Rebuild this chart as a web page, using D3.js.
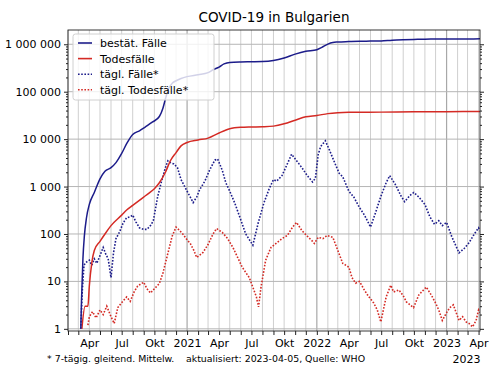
<!DOCTYPE html>
<html>
<head>
<meta charset="utf-8">
<script src="https://cdn.jsdelivr.net/npm/d3@7"></script>
<style>
  body { margin: 0; background: #fff; }
  text { font-family: "DejaVu Sans", sans-serif; fill: #000; }
</style>
</head>
<body>
<div id="chart"></div>
<script>
// kumulierte Fälle
const casesCumDates = ["2020-03-08","2020-03-10","2020-03-14","2020-03-18","2020-03-24","2020-04-01","2020-04-15","2020-05-01","2020-05-15","2020-06-01","2020-06-15","2020-07-01","2020-07-15","2020-08-01","2020-08-20","2020-09-05","2020-09-26","2020-10-15","2020-10-25","2020-11-01","2020-11-10","2020-11-20","2020-12-01","2020-12-15","2021-01-01","2021-02-01","2021-03-01","2021-03-15","2021-04-01","2021-04-15","2021-05-01","2021-06-01","2021-07-01","2021-08-01","2021-09-01","2021-10-01","2021-11-01","2021-12-01","2022-01-01","2022-01-15","2022-02-01","2022-02-15","2022-03-01","2022-04-01","2022-05-01","2022-06-01","2022-07-01","2022-08-01","2022-09-01","2022-10-01","2022-11-01","2022-12-01","2023-01-01","2023-02-01","2023-03-01","2023-04-05"];
const casesCum = [1,4,30,90,220,420,750,1450,2100,2500,3200,5000,8000,12500,15000,18000,23000,30000,45000,70000,115000,150000,170000,190000,208000,228000,252000,290000,330000,385000,415000,425000,428000,432000,455000,515000,620000,710000,770000,860000,1010000,1090000,1115000,1140000,1160000,1166000,1175000,1222000,1250000,1268000,1280000,1287000,1291000,1294000,1297000,1300000];

// kumulierte Todesfälle
const deathsCumDates = ["2020-03-11","2020-03-20","2020-03-28","2020-04-01","2020-04-08","2020-04-15","2020-05-01","2020-05-15","2020-06-01","2020-07-01","2020-07-15","2020-08-01","2020-09-01","2020-09-15","2020-10-01","2020-10-15","2020-11-01","2020-11-15","2020-12-01","2020-12-15","2021-01-01","2021-02-01","2021-03-01","2021-04-01","2021-05-01","2021-06-01","2021-07-01","2021-08-01","2021-09-01","2021-10-01","2021-11-01","2021-12-01","2022-01-01","2022-02-01","2022-03-01","2022-04-01","2022-07-01","2022-10-01","2023-01-01","2023-04-05"];
const deathsCum = [1,3,3,8,25,45,70,100,150,250,320,400,600,720,900,1200,2000,3500,5200,7200,8500,9600,10500,13500,16500,17700,18000,18200,18800,21000,25000,29500,31500,34500,36000,36700,37100,37700,38000,38300];

// tägliche Fälle, 7-Tage-Mittel
const casesDailyDates = ["2020-03-08","2020-03-12","2020-03-17","2020-03-22","2020-04-01","2020-04-08","2020-04-15","2020-04-22","2020-05-01","2020-05-10","2020-05-17","2020-05-24","2020-06-01","2020-06-08","2020-06-15","2020-06-25","2020-07-05","2020-07-15","2020-07-25","2020-08-01","2020-08-10","2020-08-20","2020-09-01","2020-09-10","2020-09-20","2020-09-28","2020-10-10","2020-10-20","2020-11-01","2020-11-08","2020-11-15","2020-11-25","2020-12-05","2020-12-15","2021-01-01","2021-01-10","2021-01-18","2021-01-28","2021-02-05","2021-02-20","2021-03-05","2021-03-20","2021-03-28","2021-04-10","2021-04-20","2021-05-01","2021-05-15","2021-05-30","2021-06-15","2021-07-05","2021-07-20","2021-08-05","2021-08-20","2021-09-01","2021-09-10","2021-09-25","2021-10-10","2021-10-22","2021-11-05","2021-11-20","2021-12-05","2021-12-20","2021-12-28","2022-01-05","2022-01-12","2022-01-25","2022-02-05","2022-02-20","2022-03-05","2022-03-15","2022-04-01","2022-04-15","2022-05-01","2022-05-15","2022-06-01","2022-06-15","2022-07-01","2022-07-15","2022-07-25","2022-08-10","2022-08-25","2022-09-05","2022-09-20","2022-10-01","2022-10-15","2022-11-01","2022-11-15","2022-11-28","2022-12-10","2022-12-20","2023-01-01","2023-01-15","2023-02-05","2023-02-20","2023-03-05","2023-03-20","2023-04-01","2023-04-05"];
const casesDaily = [1,6,22,25,28,22,30,24,35,52,38,30,12,40,80,110,170,220,230,250,180,135,125,125,150,190,600,1200,2500,3500,3200,3000,2500,1400,800,600,460,600,850,1300,2200,3600,3800,2200,1200,800,450,220,100,58,170,450,900,1400,1300,1700,3000,4800,3500,2500,1700,1250,1500,4800,7000,9200,6000,3200,1900,1600,800,600,360,250,140,280,650,1200,1700,1100,650,480,650,750,600,420,230,160,190,150,175,90,40,50,65,100,135,115];

// tägliche Todesfälle, 7-Tage-Mittel
const deathsDailyDates = ["2020-03-28","2020-04-01","2020-04-10","2020-04-20","2020-05-01","2020-05-10","2020-05-20","2020-06-01","2020-06-10","2020-06-20","2020-06-30","2020-07-15","2020-07-25","2020-08-05","2020-08-15","2020-09-01","2020-09-10","2020-09-20","2020-10-01","2020-10-15","2020-10-25","2020-11-10","2020-11-20","2020-12-01","2020-12-10","2020-12-20","2021-01-01","2021-01-10","2021-01-20","2021-01-28","2021-02-15","2021-03-01","2021-03-15","2021-03-25","2021-04-10","2021-04-25","2021-05-10","2021-05-25","2021-06-05","2021-06-25","2021-07-15","2021-07-21","2021-07-28","2021-08-10","2021-08-25","2021-09-10","2021-09-25","2021-10-10","2021-10-25","2021-11-05","2021-11-20","2021-12-05","2021-12-20","2021-12-25","2022-01-05","2022-01-18","2022-01-30","2022-02-15","2022-03-01","2022-03-15","2022-04-01","2022-04-10","2022-04-20","2022-05-01","2022-05-15","2022-05-25","2022-06-10","2022-06-20","2022-06-30","2022-07-15","2022-07-28","2022-08-05","2022-08-20","2022-09-01","2022-09-10","2022-09-30","2022-10-15","2022-11-05","2022-11-20","2022-12-01","2022-12-10","2022-12-20","2023-01-01","2023-01-10","2023-01-20","2023-02-05","2023-02-15","2023-02-25","2023-03-05","2023-03-15","2023-03-25","2023-04-01","2023-04-05"];
const deathsDaily = [1.2,1.8,2.3,1.7,2.5,2.0,3.0,1.8,1.3,2.8,3.5,4.7,3.8,6,8,9.6,7,5.7,7,9,15,45,90,140,120,100,75,63,45,32,41,60,100,130,108,80,52,30,20,12,4.7,2.9,7.6,28,52,65,80,93,140,175,118,90,70,63,85,80,93,85,45,24,20,12,9.2,10,6.5,5,3.5,2.5,1.4,4.7,8.3,6,6.6,5,3.7,2.8,5.2,7.6,5,3.5,2.5,1.5,2.2,2.8,3.2,1.5,1.8,1.4,1.3,1.1,1.5,2.5,2.2];

const yTickValues = [1,10,100,1000,10000,100000,1000000];
const monthNames = ["Jan","Feb","Mär","Apr","Mai","Jun","Jul","Aug","Sep","Okt","Nov","Dez"];
const legendLabels = ["bestät. Fälle","Todesfälle","tägl. Fälle*","tägl. Todesfälle*"];

const width = 500, height = 375;
const margin = {top: 30, right: 20, bottom: 44, left: 68};
const blue = "#1c1c8a", red = "#d42a24";

const parse = d3.timeParse("%Y-%m-%d");
const zip = (ds, vs) => ds.map((d, i) => ({date: parse(d), value: vs[i]}));

const svg = d3.select("#chart").append("svg")
    .attr("width", width)
    .attr("height", height);

const x = d3.scaleTime()
    .domain([parse("2020-02-01"), parse("2023-04-05")])
    .range([margin.left, width - margin.right]);

const y = d3.scaleLog()
    .domain([0.9, 2e6])
    .range([height - margin.bottom, margin.top]);

const months = d3.timeMonth.range(parse("2020-02-01"), parse("2023-04-06"));

// Gitter
svg.append("g")
    .selectAll("line")
    .data(months)
    .enter().append("line")
    .attr("x1", d => x(d)).attr("x2", d => x(d))
    .attr("y1", margin.top).attr("y2", height - margin.bottom)
    .attr("stroke", d => d.getMonth() === 0 ? "#a8a8a8" : "#cfcfcf")
    .attr("stroke-width", d => d.getMonth() === 0 ? 1.2 : 1);

svg.append("g")
    .selectAll("line")
    .data(yTickValues)
    .enter().append("line")
    .attr("x1", margin.left).attr("x2", width - margin.right)
    .attr("y1", d => y(d)).attr("y2", d => y(d))
    .attr("stroke", "#b5b5b5");

// Linien
const line = d3.line()
    .x(d => x(d.date))
    .y(d => y(d.value));
const smooth = d3.line()
    .x(d => x(d.date))
    .y(d => y(d.value))
    .curve(d3.curveMonotoneX);

svg.append("clipPath").attr("id", "clip")
    .append("rect")
    .attr("x", margin.left).attr("y", margin.top)
    .attr("width", width - margin.left - margin.right)
    .attr("height", height - margin.top - margin.bottom);

const plot = svg.append("g").attr("clip-path", "url(#clip)");

plot.append("path")
    .datum(zip(deathsDailyDates, deathsDaily))
    .attr("d", line)
    .attr("fill", "none").attr("stroke", red)
    .attr("stroke-width", 1.6).attr("stroke-dasharray", "1.6 1.6");

plot.append("path")
    .datum(zip(casesDailyDates, casesDaily))
    .attr("d", line)
    .attr("fill", "none").attr("stroke", blue)
    .attr("stroke-width", 1.6).attr("stroke-dasharray", "1.6 1.6");

plot.append("path")
    .datum(zip(deathsCumDates, deathsCum))
    .attr("d", smooth)
    .attr("fill", "none").attr("stroke", red)
    .attr("stroke-width", 1.5);

plot.append("path")
    .datum(zip(casesCumDates, casesCum))
    .attr("d", smooth)
    .attr("fill", "none").attr("stroke", blue)
    .attr("stroke-width", 1.5);

// Rahmen
svg.append("rect")
    .attr("x", margin.left).attr("y", margin.top)
    .attr("width", width - margin.left - margin.right)
    .attr("height", height - margin.top - margin.bottom)
    .attr("fill", "none").attr("stroke", "#222").attr("stroke-width", 0.9);

// Achsen
const fmt = d => d3.format(",")(d).replace(/,/g, " ");
const minorTicks = [];
yTickValues.forEach(v => { for (let k = 2; k < 10; k++) if (v * k < 2e6) minorTicks.push(v * k); });

const yLeft = svg.append("g")
    .attr("transform", `translate(${margin.left},0)`)
    .call(d3.axisLeft(y).tickValues(yTickValues).tickFormat(fmt).tickSize(4).tickPadding(3));
yLeft.select(".domain").remove();
yLeft.selectAll("text").style("font-size", "11px").attr("fill", "#000");
yLeft.selectAll("line").attr("stroke", "#222");

svg.append("g")
    .attr("transform", `translate(${margin.left},0)`)
    .call(d3.axisLeft(y).tickValues(minorTicks).tickFormat("").tickSize(2))
    .call(g => g.select(".domain").remove())
    .selectAll("line").attr("stroke", "#222");

svg.append("g")
    .attr("transform", `translate(${width - margin.right},0)`)
    .call(d3.axisRight(y).tickValues(yTickValues).tickFormat("").tickSize(4))
    .call(g => g.select(".domain").remove())
    .selectAll("line").attr("stroke", "#222");

svg.append("g")
    .attr("transform", `translate(${width - margin.right},0)`)
    .call(d3.axisRight(y).tickValues(minorTicks).tickFormat("").tickSize(2))
    .call(g => g.select(".domain").remove())
    .selectAll("line").attr("stroke", "#222");

const labelFmt = d => {
  const m = d.getMonth();
  if (m === 0) return d.getFullYear();
  if (m === 3 || m === 6 || m === 9) return monthNames[m];
  return "";
};

const xAxis = svg.append("g")
    .attr("transform", `translate(0,${height - margin.bottom})`)
    .call(d3.axisBottom(x).tickValues(months).tickFormat(labelFmt).tickSize(4).tickPadding(4));
xAxis.select(".domain").remove();
xAxis.selectAll("text").style("font-size", "11px").attr("fill", "#000");
xAxis.selectAll("line").attr("stroke", "#222");

svg.append("text")
    .attr("x", x(parse("2023-04-01")) - 12)
    .attr("y", 363)
    .attr("text-anchor", "middle")
    .style("font-size", "11px")
    .text("2023");

// Titel
svg.append("text")
    .attr("x", (margin.left + width - margin.right) / 2)
    .attr("y", 22)
    .attr("text-anchor", "middle")
    .style("font-size", "13.5px")
    .text("COVID-19 in Bulgarien");

// Fußnoten
svg.append("text")
    .attr("x", 47).attr("y", 362)
    .style("font-size", "9.4px")
    .text("* 7-tägig. gleitend. Mittelw.");
svg.append("text")
    .attr("x", 186).attr("y", 362)
    .style("font-size", "9.4px")
    .text("aktualisiert: 2023-04-05, Quelle: WHO");

// Legende
const legend = svg.append("g");
legend.append("rect")
    .attr("x", 73).attr("y", 34)
    .attr("width", 141).attr("height", 66)
    .attr("rx", 2.5)
    .attr("fill", "#fff").attr("fill-opacity", 0.8)
    .attr("stroke", "#d0d0d0");

const legendStyles = [
  {color: blue, dash: null},
  {color: red, dash: null},
  {color: blue, dash: "1.6 1.6"},
  {color: red, dash: "1.6 1.6"}
];

legendLabels.forEach((lab, i) => {
  const yy = 43 + i * 15.6;
  legend.append("line")
      .attr("x1", 78).attr("x2", 92)
      .attr("y1", yy).attr("y2", yy)
      .attr("stroke", legendStyles[i].color)
      .attr("stroke-width", 1.6)
      .attr("stroke-dasharray", legendStyles[i].dash);
  legend.append("text")
      .attr("x", 100).attr("y", yy + 4)
      .style("font-size", "11px")
      .text(lab);
});
</script>
</body>
</html>
